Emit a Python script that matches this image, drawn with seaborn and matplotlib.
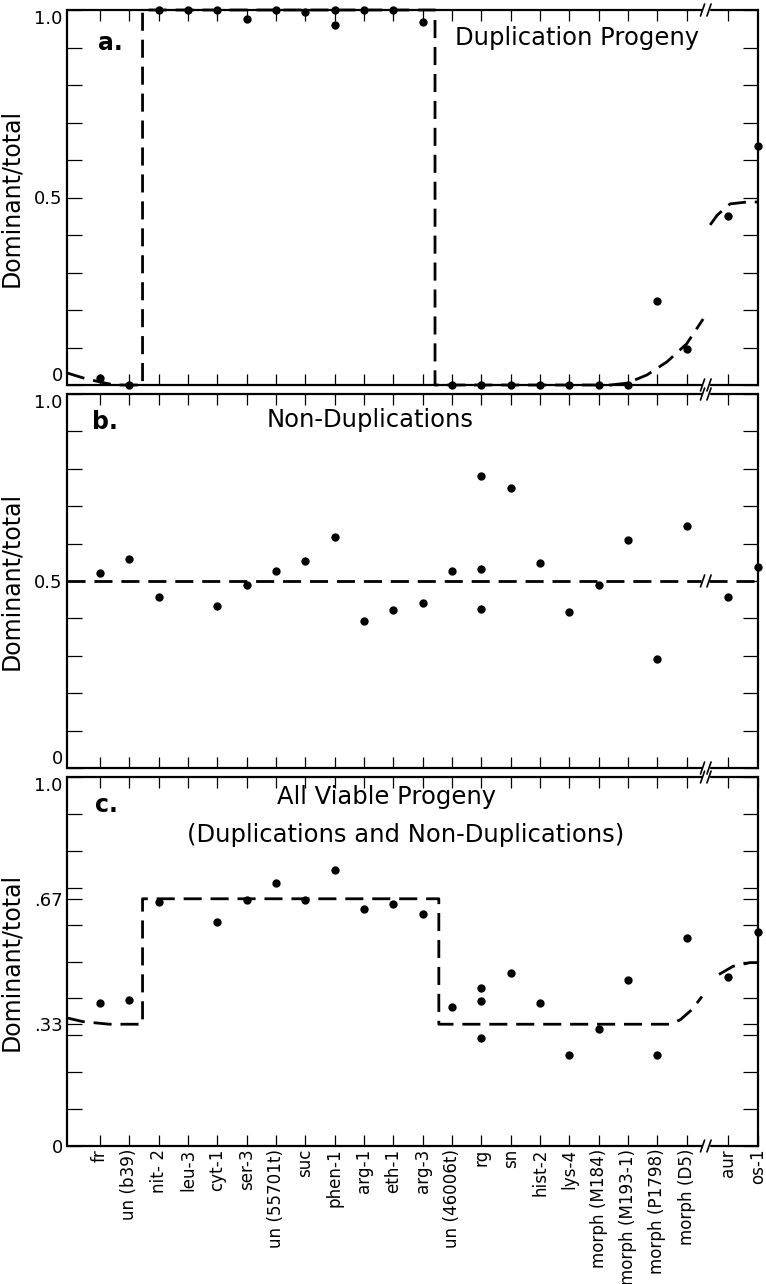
import numpy as np
import pandas as pd
import matplotlib
matplotlib.use("Agg")
import matplotlib.pyplot as plt
import seaborn as sns

# ---------------- data ----------------
categories = ["fr", "un (b39)", "nit- 2", "leu-3", "cyt-1", "ser-3", "un (55701t)",
              "suc", "phen-1", "arg-1", "eth-1", "arg-3", "un (46006t)", "rg", "sn",
              "hist-2", "lys-4", "morph (M184)", "morph (M193-1)", "morph (P1798)",
              "morph (D5)", "aur", "os-1"]

# panel a: duplication progeny
dup_cat = ["fr", "un (b39)", "nit- 2", "leu-3", "cyt-1", "ser-3", "un (55701t)", "suc",
           "phen-1", "phen-1", "arg-1", "eth-1", "arg-3", "un (46006t)", "rg", "sn",
           "hist-2", "lys-4", "morph (M184)", "morph (M193-1)", "morph (P1798)",
           "morph (D5)", "aur", "os-1"]
dup_val = [0.02, 0.0, 1.0, 1.0, 1.0, 0.976, 1.0, 0.995,
           1.0, 0.96, 1.0, 1.0, 0.968, 0.0, 0.0, 0.0,
           0.0, 0.0, 0.0, 0.0, 0.224,
           0.096, 0.45, 0.637]

# panel b: non-duplications
nondup_cat = ["fr", "un (b39)", "nit- 2", "cyt-1", "ser-3", "un (55701t)", "suc", "phen-1",
              "arg-1", "eth-1", "arg-3", "un (46006t)", "rg", "rg", "rg", "sn", "hist-2",
              "lys-4", "morph (M184)", "morph (M193-1)", "morph (P1798)", "morph (D5)",
              "aur", "os-1"]
nondup_val = [0.522, 0.558, 0.457, 0.433, 0.489, 0.527, 0.553, 0.618,
              0.393, 0.422, 0.441, 0.527, 0.781, 0.532, 0.426, 0.749, 0.548,
              0.417, 0.489, 0.610, 0.291, 0.648,
              0.458, 0.538]

# panel c: all viable progeny
all_cat = nondup_cat
all_val = [0.388, 0.396, 0.660, 0.607, 0.668, 0.713, 0.668, 0.749,
           0.641, 0.657, 0.630, 0.378, 0.427, 0.392, 0.293, 0.469, 0.388,
           0.247, 0.318, 0.451, 0.247, 0.563,
           0.457, 0.580]

# expected (dashed) curves, x in category units
exp_a1_x = [-1.12, -0.58, 0.0, 0.5, 1.45, 1.45, 11.42, 11.42, 17.4, 17.97, 18.65, 19.33, 20.0, 20.56]
exp_a1_y = [0.032, 0.019, 0.008, 0.0, 0.0, 1.0, 1.0, 0.0, 0.0, 0.005, 0.027, 0.062, 0.11, 0.176]
exp_a2_x = [20.8, 21.04, 21.48, 22.06, 22.43]
exp_a2_y = [0.427, 0.453, 0.483, 0.488, 0.488]

exp_b1_x = [-1.12, 20.5]
exp_b1_y = [0.5, 0.5]
exp_b2_x = [20.75, 22.43]
exp_b2_y = [0.5, 0.5]

exp_c1_x = [-1.12, -0.58, 0.33, 1.45, 1.45, 11.55, 11.55, 19.43, 19.78, 20.18, 20.52]
exp_c1_y = [0.347, 0.337, 0.33, 0.33, 0.67, 0.67, 0.33, 0.33, 0.342, 0.37, 0.405]
exp_c2_x = [21.1, 21.58, 22.16, 22.43]
exp_c2_y = [0.465, 0.487, 0.497, 0.497]

panel_letters = ["a.", "b.", "c."]
panel_titles = ["Duplication Progeny", "Non-Duplications",
                "All Viable Progeny\n(Duplications and Non-Duplications)"]
ylabel = "Dominant/total"
ytick_labels_ab = {0.0: "0", 0.5: "0.5", 1.0: "1.0"}
ytick_labels_c = {0.0: "0", 0.33: ".33", 0.67: ".67", 1.0: "1.0"}

# ---------------- layout ----------------
BREAK_AFTER = 20          # axis break after this category index
BREAK_GAP = 0.42
pos = {c: i + (BREAK_GAP if i > BREAK_AFTER else 0.0) for i, c in enumerate(categories)}
XMIN, XMAX = -1.125, 22.43
BRK = 20.56

sns.set_style("ticks")
plt.rcParams["font.family"] = ["DejaVu Sans"]
for k in ("text.color", "axes.labelcolor", "xtick.color", "ytick.color", "axes.edgecolor"):
    plt.rcParams[k] = "black"

W, H = 766, 1284
fig = plt.figure(figsize=(W / 100, H / 100), dpi=100)
left, right = 67 / W, 758 / W
boxes = [(10, 385), (394, 768), (777, 1146)]
axes = []
for top, bot in boxes:
    ax = fig.add_axes([left, 1 - bot / H, right - left, (bot - top) / H])
    axes.append(ax)

def draw_panel(ax, cats, vals, curves, yt_labels, extra_ticks=(), shift_zero=True):
    df = pd.DataFrame({"x": [pos[c] for c in cats], "y": vals})
    for cx, cy in curves:
        cd = pd.DataFrame({"x": cx, "y": cy})
        sns.lineplot(data=cd, x="x", y="y", sort=False, estimator=None, ax=ax,
                     color="black", linewidth=2.0, linestyle=(0, (6.5, 3.2)),
                     clip_on=False)
    sns.scatterplot(data=df, x="x", y="y", ax=ax, color="black", s=36,
                    edgecolor="black", linewidth=0, clip_on=False, zorder=5)
    ax.set_xlim(XMIN, XMAX)
    ax.set_ylim(0, 1)
    ax.set_xlabel("")
    ax.set_ylabel(ylabel, fontsize=17)
    ax.yaxis.set_label_coords(-0.064, 0.5)

    # y ticks
    yt = sorted(set([round(v, 2) for v in np.arange(0, 1.01, 0.1)] + list(extra_ticks)))
    ax.set_yticks(yt)
    ax.set_yticklabels([yt_labels.get(round(v, 2), "") for v in yt], fontsize=13)
    for v, lab in zip(yt, ax.get_yticklabels()):
        if v == 1.0:
            lab.set_verticalalignment("top")
        elif v == 0.0 and shift_zero:
            lab.set_verticalalignment("bottom")
    # x ticks
    xt = [pos[c] for c in categories[:-1]]
    ax.set_xticks(xt)
    ax.set_xticklabels([])
    ax.tick_params(axis="y", which="both", direction="in", length=11, width=0.9,
                   left=True, right=True, pad=3)
    ax.tick_params(axis="x", which="both", direction="in", length=8, width=0.9,
                   top=True, bottom=True)

    # spines with break
    ax.spines["top"].set_visible(False)
    ax.spines["bottom"].set_visible(False)
    for sp in ("left", "right"):
        ax.spines[sp].set_linewidth(1.6)
    tr = ax.get_xaxis_transform()
    for yv in (0, 1):
        ax.plot([XMIN, BRK - 0.05], [yv, yv], transform=tr, color="black", lw=1.6, clip_on=False)
        ax.plot([BRK + 0.28, XMAX], [yv, yv], transform=tr, color="black", lw=1.6, clip_on=False)
        for bx in (BRK - 0.02, BRK + 0.2):
            ax.plot([bx - 0.07, bx + 0.07], [yv - 0.016, yv + 0.016], transform=tr,
                    color="black", lw=1.2, clip_on=False)

for i, ax in enumerate(axes):
    if i == 0:
        draw_panel(ax, dup_cat, dup_val, [(exp_a1_x, exp_a1_y), (exp_a2_x, exp_a2_y)], ytick_labels_ab)
    elif i == 1:
        draw_panel(ax, nondup_cat, nondup_val, [(exp_b1_x, exp_b1_y), (exp_b2_x, exp_b2_y)], ytick_labels_ab)
        for bx in (BRK - 0.02, BRK + 0.2):
            ax.plot([bx - 0.07, bx + 0.07], [0.5 - 0.016, 0.5 + 0.016], color="black", lw=1.2)
    else:
        draw_panel(ax, all_cat, all_val, [(exp_c1_x, exp_c1_y), (exp_c2_x, exp_c2_y)], ytick_labels_c,
                   extra_ticks=(0.33, 0.67), shift_zero=False)

# x tick labels on bottom panel
axc = axes[2]
axc.set_xticks([pos[c] for c in categories])
axc.set_xticklabels(categories, rotation=90, fontsize=12.1, va="top", ha="center")
axc.tick_params(axis="x", pad=2)

# panel letters and titles (in pixel positions converted to figure coordinates)
def ftext(x, y, s, **kw):
    fig.text(x / W, 1 - y / H, s, ha="center", va="center", **kw)

ftext(110, 43, panel_letters[0], fontsize=17, fontweight="bold")
ftext(105, 422, panel_letters[1], fontsize=17, fontweight="bold")
ftext(106, 805, panel_letters[2], fontsize=17, fontweight="bold")
ftext(577, 38, panel_titles[0], fontsize=17.5)
ftext(370, 420, panel_titles[1], fontsize=17.5)
t1, t2 = panel_titles[2].split("\n")
ftext(387, 797, t1, fontsize=17.5)
ftext(406, 835, t2, fontsize=17.5)

fig.savefig("out.png", dpi=100)
